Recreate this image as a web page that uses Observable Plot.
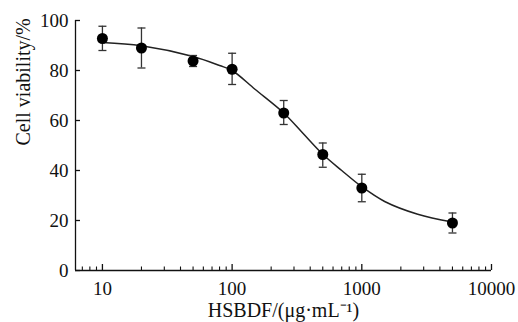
<!DOCTYPE html>
<html>
<head>
<meta charset="utf-8">
<script src="https://cdn.jsdelivr.net/npm/d3@7"></script>
<script src="https://cdn.jsdelivr.net/npm/@observablehq/plot@0.6"></script>
<style>
  html, body { margin: 0; padding: 0; background: #fff; }
  #chart svg { display: block; }
</style>
</head>
<body>
<div id="chart"></div>
<script>
// Measured points (concentration, mean viability, error bar low/high)
const concentrations = [10, 20, 50, 100, 250, 500, 1000, 5000];
const viability      = [92.8, 89.0, 83.8, 80.5, 63.0, 46.4, 33.0, 19.0];
const errLow         = [88.0, 81.0, 81.6, 74.4, 58.4, 41.3, 27.5, 15.0];
const errHigh        = [97.7, 97.0, 86.0, 86.9, 68.0, 51.0, 38.5, 23.0];

// Fitted curve
const curveX = [10, 20, 50, 80, 100, 150, 250, 350, 500, 700, 1000, 1500, 2700, 5000];
const curveY = [91.2, 89.9, 85.6, 82.0, 80.0, 72.5, 63.0, 55.0, 46.5, 40.0, 33.5, 27.6, 22.5, 19.4];

// Axes ticks and titles
const xDomain = [6.2, 10000];
const xMajor = [10, 100, 1000, 10000];
const xMinor = [7, 8, 9, 20, 30, 40, 50, 60, 70, 80, 90, 200, 300, 400, 500, 600, 700, 800, 900,
                2000, 3000, 4000, 5000, 6000, 7000, 8000, 9000];
const yTicks = [0, 20, 40, 60, 80, 100];
const xTitle = "HSBDF/(μg·mL⁻¹)";
const yTitle = "Cell viability/%";

const points = concentrations.map((x, i) => ({x, y: viability[i], lo: errLow[i], hi: errHigh[i]}));
const curve = curveX.map((x, i) => ({x, y: curveY[i]}));

const W = 518, H = 322, mL = 75, mR = 27, mT = 20, mB = 52;
const plotW = W - mL - mR, plotH = H - mT - mB;

const capSymbol = {
  draw(context, size) {
    const r = Math.sqrt(size / Math.PI);
    context.moveTo(-r, 0);
    context.lineTo(r, 0);
  }
};

const ink = "#111";

const chart = Plot.plot({
  width: W,
  height: H,
  marginLeft: mL,
  marginRight: mR,
  marginTop: mT,
  marginBottom: mB,
  style: {fontFamily: "'Liberation Serif', 'Times New Roman', serif", fontSize: "19px", color: ink, background: "#fff"},
  x: {type: "log", domain: xDomain},
  y: {domain: [0, 100]},
  marks: [
    // axis lines
    Plot.ruleY([0], {stroke: ink, strokeWidth: 1.3}),
    Plot.ruleX([xDomain[0]], {stroke: ink, strokeWidth: 1.3}),
    // inward ticks
    Plot.ruleX(xMinor, {stroke: ink, strokeWidth: 1.1, insetTop: plotH - 3.5}),
    Plot.ruleX(xMajor, {stroke: ink, strokeWidth: 1.3, insetTop: plotH - 6}),
    Plot.ruleY(yTicks, {stroke: ink, strokeWidth: 1.3, insetRight: plotW - 5}),
    // tick labels
    Plot.axisX({ticks: xMajor, tickSize: 0, tickPadding: 11, tickFormat: d => String(d),
      label: null, fontSize: 19, fill: ink}),
    Plot.axisY({ticks: yTicks, tickSize: 0, tickPadding: 7, label: null, fontSize: 19, fill: ink}),
    // axis titles
    Plot.text([xTitle], {text: d => d, frameAnchor: "bottom", dy: 46, lineAnchor: "bottom", fontSize: 20, fill: ink}),
    Plot.text([yTitle], {text: d => d, frameAnchor: "left", dx: -60, rotate: -90, lineAnchor: "top", fontSize: 20, fill: ink}),
    // fitted curve
    Plot.line(curve, {x: "x", y: "y", curve: "catmull-rom", stroke: "#222", strokeWidth: 1.5}),
    // error bars
    Plot.ruleX(points, {x: "x", y1: "lo", y2: "hi", stroke: "#333", strokeWidth: 1.3}),
    Plot.dot(points, {x: "x", y: "hi", symbol: capSymbol, r: 4, stroke: "#333", strokeWidth: 1.3, fill: "none"}),
    Plot.dot(points, {x: "x", y: "lo", symbol: capSymbol, r: 4, stroke: "#333", strokeWidth: 1.3, fill: "none"}),
    // points
    Plot.dot(points, {x: "x", y: "y", r: 5.5, fill: "#000", stroke: "none"})
  ]
});

document.getElementById("chart").appendChild(chart);
</script>
</body>
</html>
